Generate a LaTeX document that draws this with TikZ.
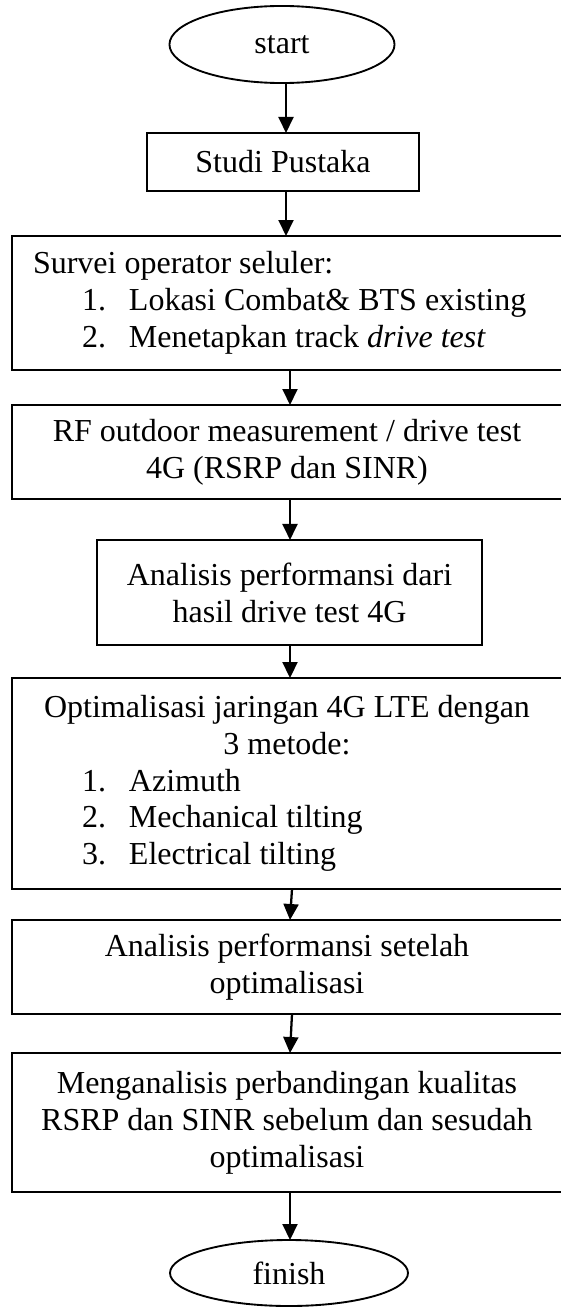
\documentclass[tikz,border=0pt]{standalone}
\usepackage{fontspec}
\setmainfont{Liberation Serif}
\usetikzlibrary{arrows.meta,shapes.geometric}

% one line of a numbered list inside a wide box
\newcommand\listline[2]{\makebox[190.5pt][l]{\hspace*{18.4pt}\makebox[17.6pt][l]{#1}#2}}
% a plain line pushed to the left edge of a wide box
\newcommand\flushline[1]{\makebox[190.5pt][l]{#1}}

\begin{document}
\begin{tikzpicture}[x=0.375pt,y=-0.375pt,
  every node/.style={font=\fontsize{12pt}{13.8pt}\selectfont, inner sep=0pt, outer sep=0pt},
  box/.style={draw, line width=0.7pt, rectangle, align=center, minimum height=#1},
  wide/.style={minimum width=206.25pt},
  term/.style={draw, ellipse, line width=0.7pt},
  flow/.style={-{Triangle[width=5.6pt,length=6pt]}, line width=0.85pt}
]
\useasboundingbox (0,0) rectangle (560,1309);

\node[term, minimum width=84.4pt, minimum height=28.9pt] (start) at (282,44.5) {start};
\node[box=21.75pt, minimum width=102pt] (studi) at (283,162) {Studi Pustaka};
\node[box=50.25pt, wide] (survei) at (287,303)
  {\flushline{Survei operator seluler:}\\
   \listline{1.}{Lokasi Combat\& BTS existing}\\
   \listline{2.}{Menetapkan track \emph{drive test}}};
\node[box=35.25pt, wide] (rf) at (287,452)
  {RF outdoor measurement / drive test\\4G (RSRP dan SINR)};
\node[box=39.4pt, minimum width=144.4pt] (anal) at (289.5,592.5)
  {Analisis performansi dari\\hasil drive test 4G};
\node[box=79.1pt, wide] (optim) at (287,783.5)
  {Optimalisasi jaringan 4G LTE dengan\\3 metode:\\
   \listline{1.}{Azimuth}\\
   \listline{2.}{Mechanical tilting}\\
   \listline{3.}{Electrical tilting}};
\node[box=35.25pt, wide] (after) at (287,967)
  {Analisis performansi setelah\\optimalisasi};
\node[box=52.1pt, wide] (compare) at (287,1122.5)
  {Menganalisis perbandingan kualitas\\RSRP dan SINR sebelum dan sesudah\\optimalisasi};
\node[term, minimum width=89.25pt, minimum height=24.75pt] (finish) at (289,1273) {finish};

% vertical axes the connectors run along
\coordinate (c1) at (286,0);
\coordinate (c2) at (290,0);
\coordinate (c3) at (292,0);

\draw[flow] (start.south -| c1) -- (studi.north -| c1);
\draw[flow] (studi.south -| c1) -- (survei.north -| c1);
\draw[flow] (survei.south -| c2) -- (rf.north -| c2);
\draw[flow] (rf.south -| c2) -- (anal.north -| c2);
\draw[flow] (anal.south -| c2) -- (optim.north -| c2);
\draw[flow] (optim.south -| c3) -- (after.north -| c2);
\draw[flow] (after.south -| c3) -- (compare.north -| c2);
\draw[flow] (compare.south -| c2) -- (finish.north -| c2);
\end{tikzpicture}
\end{document}
